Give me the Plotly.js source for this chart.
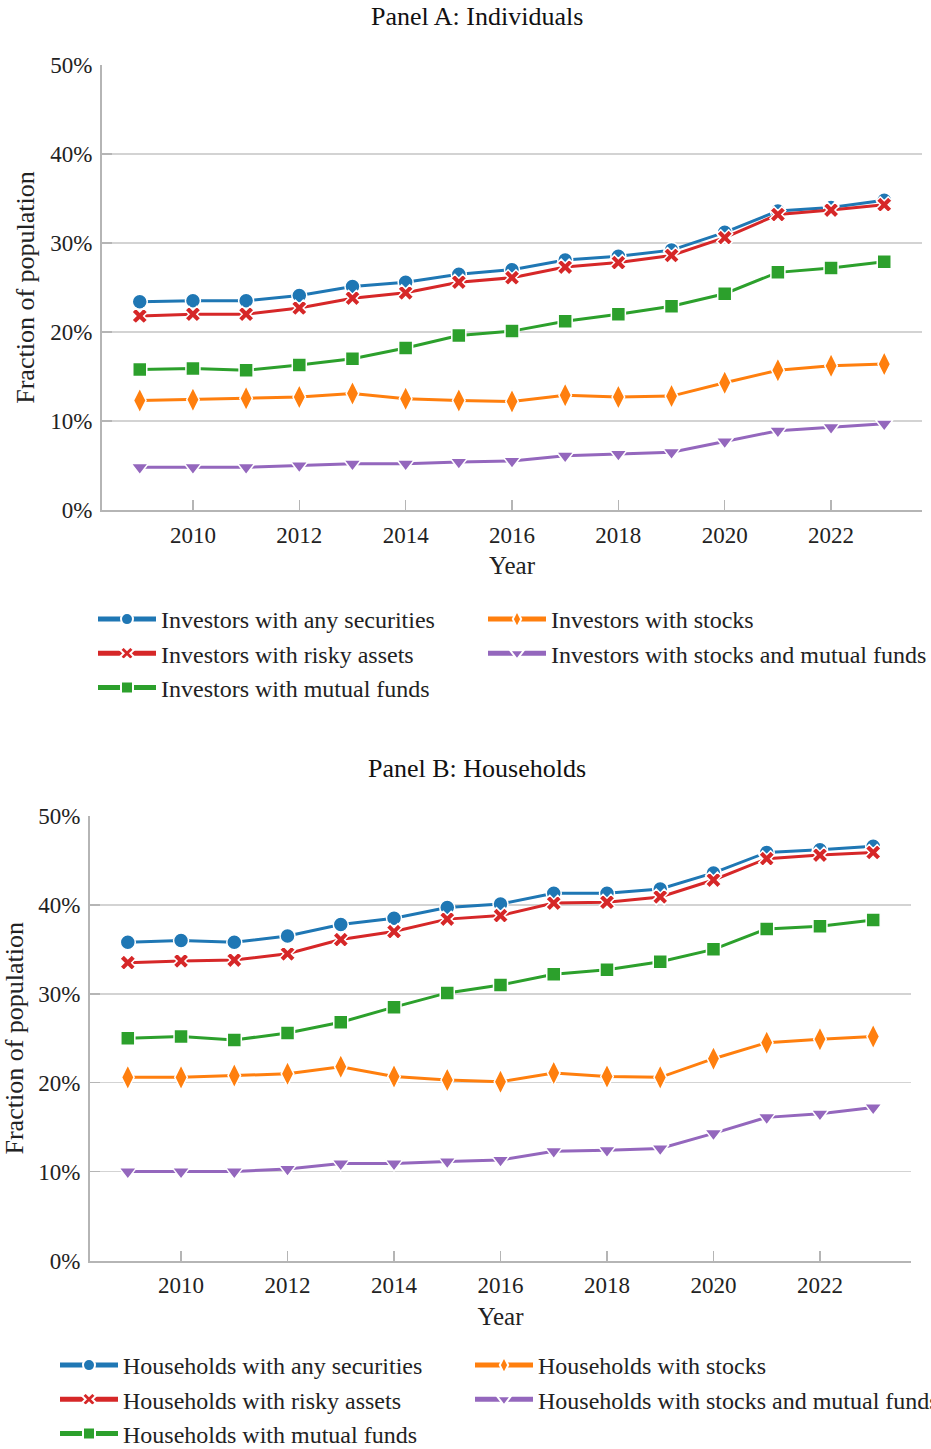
<!DOCTYPE html>
<html>
<head>
<meta charset="utf-8">
<script src="https://cdn.plot.ly/plotly-3.0.1.min.js"></script>
<style>html,body{margin:0;padding:0;background:#fff;}#chart{width:931px;height:1449px;}</style>
</head>
<body>
<div id="chart"></div>
<script>
// Data (percent of population)
const years = [2009, 2010, 2011, 2012, 2013, 2014, 2015, 2016, 2017, 2018, 2019, 2020, 2021, 2022, 2023];

// Panel A: Individuals
const indAny      = [23.4, 23.5, 23.5, 24.1, 25.1, 25.6, 26.5, 27.0, 28.1, 28.5, 29.2, 31.2, 33.6, 34.0, 34.8];
const indRisky    = [21.8, 22.0, 22.0, 22.7, 23.8, 24.4, 25.6, 26.1, 27.3, 27.8, 28.6, 30.6, 33.2, 33.7, 34.3];
const indMutual   = [15.8, 15.9, 15.7, 16.3, 17.0, 18.2, 19.6, 20.1, 21.2, 22.0, 22.9, 24.3, 26.7, 27.2, 27.9];
const indStocks   = [12.3, 12.4, 12.55, 12.7, 13.1, 12.5, 12.3, 12.2, 12.9, 12.7, 12.8, 14.3, 15.7, 16.2, 16.4];
const indStocksMF = [4.8, 4.8, 4.8, 5.0, 5.2, 5.2, 5.4, 5.5, 6.1, 6.3, 6.5, 7.7, 8.9, 9.3, 9.7];

// Panel B: Households
const hhAny      = [35.8, 36.0, 35.8, 36.5, 37.8, 38.5, 39.7, 40.1, 41.3, 41.3, 41.8, 43.6, 45.9, 46.2, 46.6];
const hhRisky    = [33.5, 33.7, 33.8, 34.5, 36.1, 37.0, 38.4, 38.8, 40.2, 40.3, 40.9, 42.8, 45.2, 45.6, 45.9];
const hhMutual   = [25.0, 25.2, 24.8, 25.6, 26.8, 28.5, 30.1, 31.0, 32.2, 32.7, 33.6, 35.0, 37.3, 37.6, 38.3];
const hhStocks   = [20.6, 20.6, 20.8, 21.0, 21.8, 20.7, 20.3, 20.1, 21.1, 20.7, 20.6, 22.7, 24.5, 24.9, 25.2];
const hhStocksMF = [10.0, 10.0, 10.0, 10.3, 10.9, 10.9, 11.15, 11.3, 12.3, 12.4, 12.6, 14.3, 16.1, 16.5, 17.2];

const indNames = ["Investors with any securities", "Investors with risky assets", "Investors with mutual funds", "Investors with stocks", "Investors with stocks and mutual funds"];
const hhNames  = ["Households with any securities", "Households with risky assets", "Households with mutual funds", "Households with stocks", "Households with stocks and mutual funds"];
const panelTitles = ["Panel A: Individuals", "Panel B: Households"];
const yTickVals = [0, 10, 20, 30, 40, 50];
const yTickText = ["0%", "10%", "20%", "30%", "40%", "50%"];
const xTickVals = [2010, 2012, 2014, 2016, 2018, 2020, 2022];

const colors  = ["#1f77b4", "#d62728", "#2ca02c", "#ff7f0e", "#9467bd"];
const symbols = ["circle", "x", "square", "diamond-tall", "triangle-down"];
const sizes   = [15, 14, 14, 18, 15];

const FONT = "'Liberation Serif', 'Times New Roman', Times, serif";
const TXT = "#222222";

function makeTraces(series, names, xa, ya, legA, legB) {
  return series.map((vals, i) => ({
    type: "scatter", mode: "lines+markers",
    x: years, y: vals, name: names[i],
    xaxis: xa, yaxis: ya,
    legend: i < 3 ? legA : legB,
    line: {color: colors[i], width: 3},
    marker: {symbol: symbols[i], size: sizes[i], color: colors[i], line: {color: "#ffffff", width: 1.5}},
    hoverinfo: "x+y+name"
  }));
}

const data = [
  ...makeTraces([indAny, indRisky, indMutual, indStocks, indStocksMF], indNames, "x", "y", "legend", "legend2"),
  ...makeTraces([hhAny, hhRisky, hhMutual, hhStocks, hhStocksMF], hhNames, "x2", "y2", "legend3", "legend4")
];

const W = 931, H = 1449;
const px = v => v / W, py = v => 1 - v / H;

function xAxis(domain, anchor) {
  return {
    domain: domain, anchor: anchor, range: [2008.29, 2023.71],
    tickvals: xTickVals, ticks: "inside", ticklen: 10, tickwidth: 1.5, tickcolor: "#b5b5b5",
    showline: true, linecolor: "#b5b5b5", linewidth: 2, showgrid: false, zeroline: false,
    tickfont: {family: FONT, size: 23, color: TXT}, ticklabelstandoff: 3,
    title: {text: "Year", font: {family: FONT, size: 25, color: TXT}, standoff: 10}
  };
}
function yAxis(domain, anchor) {
  return {
    domain: domain, anchor: anchor, range: [0, 50],
    tickmode: "array", tickvals: yTickVals, ticktext: yTickText, ticks: "inside", ticklen: 10, tickwidth: 1.5, tickcolor: "#b5b5b5",
    showline: true, linecolor: "#b5b5b5", linewidth: 2, showgrid: true, gridcolor: "#d3d3d3", gridwidth: 1.5, zeroline: false,
    tickfont: {family: FONT, size: 23, color: TXT}, ticklabelstandoff: 3,
    title: {text: "Fraction of population", font: {family: FONT, size: 26, color: TXT}, standoff: 8}
  };
}
function legend(xp, ytop) {
  return {
    x: px(xp), y: py(ytop), xref: "paper", yref: "paper", xanchor: "left", yanchor: "top",
    orientation: "v", bgcolor: "rgba(0,0,0,0)", borderwidth: 0, itemwidth: 58, itemsizing: "constant",
    font: {family: FONT, size: 24, color: TXT}, itemclick: false, itemdoubleclick: false
  };
}

const layout = {
  width: W, height: H,
  margin: {l: 0, r: 0, t: 0, b: 0, autoexpand: false},
  paper_bgcolor: "#ffffff", plot_bgcolor: "#ffffff",
  font: {family: FONT, color: TXT},
  showlegend: true,
  xaxis: xAxis([px(102), px(922)], "y"),
  yaxis: yAxis([py(510), py(65)], "x"),
  xaxis2: xAxis([px(90), px(911)], "y2"),
  yaxis2: yAxis([py(1260.5), py(816)], "x2"),
  legend: legend(93, 597),
  legend2: legend(483, 597),
  legend3: legend(55, 1343),
  legend4: legend(470, 1343),
  annotations: [
    {text: panelTitles[0], x: px(477), y: py(17), xref: "paper", yref: "paper", xanchor: "center", yanchor: "middle", showarrow: false, font: {family: FONT, size: 26, color: "#111"}},
    {text: panelTitles[1], x: px(477), y: py(768), xref: "paper", yref: "paper", xanchor: "center", yanchor: "middle", showarrow: false, font: {family: FONT, size: 26, color: "#111"}}
  ]
};

Plotly.newPlot("chart", data, layout, {displayModeBar: false, staticPlot: true});
</script>
</body>
</html>
